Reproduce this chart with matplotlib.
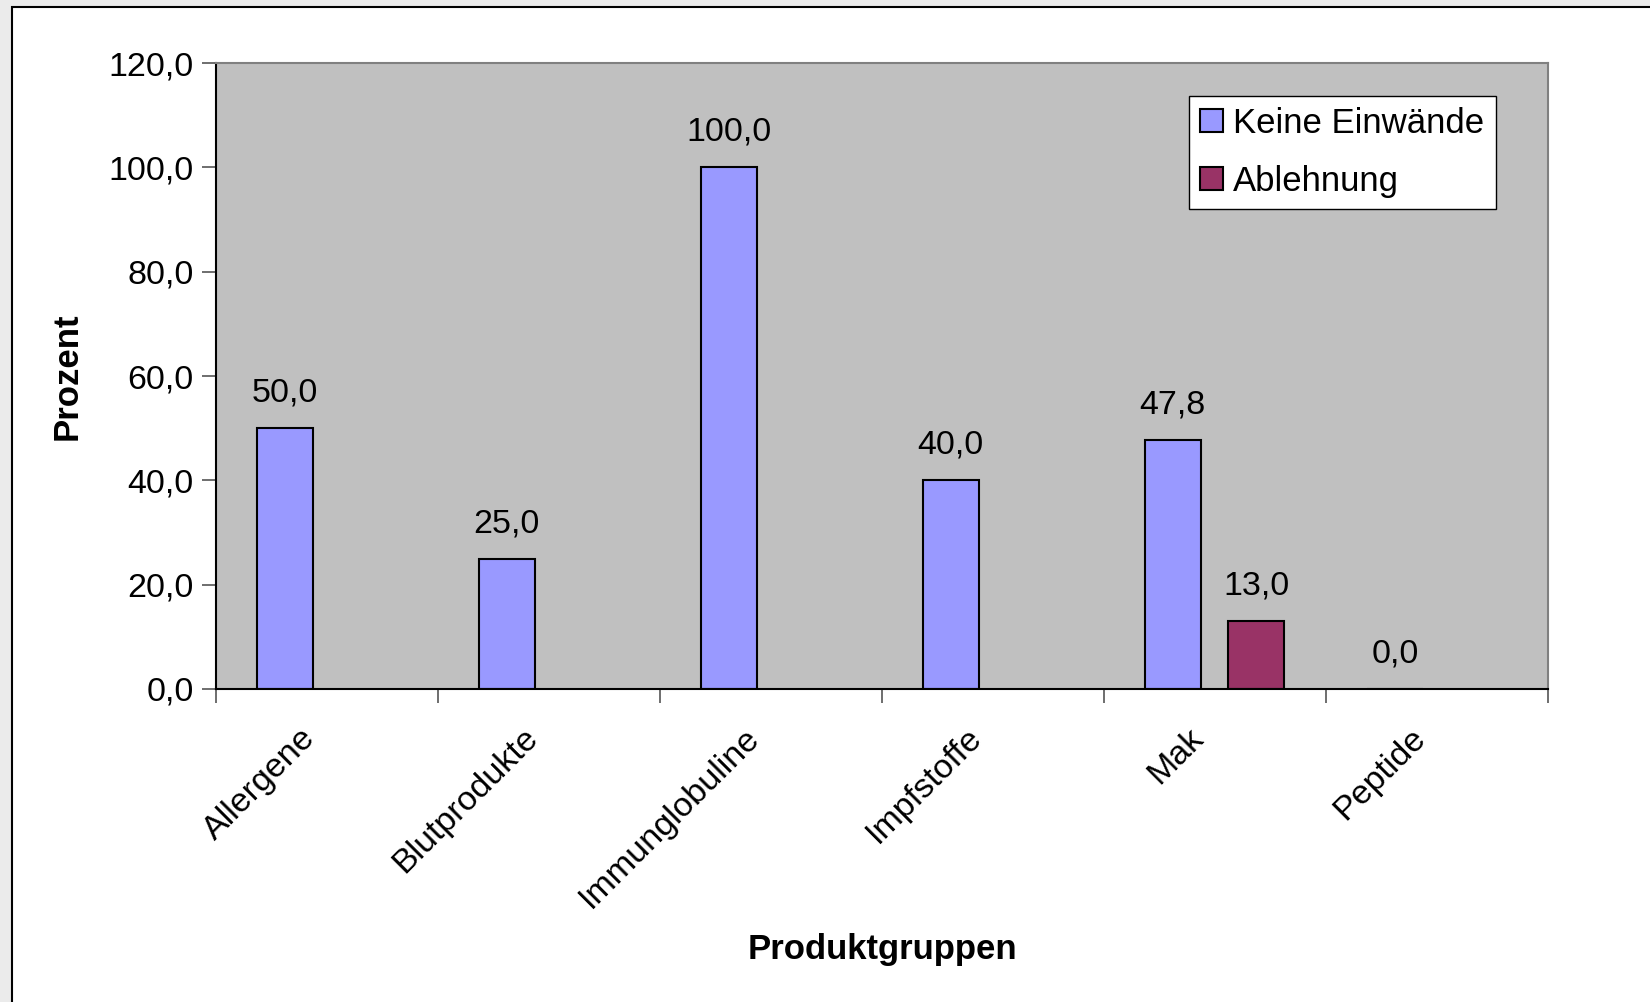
import matplotlib.pyplot as plt
from matplotlib.patches import Rectangle
from matplotlib.transforms import ScaledTranslation
import numpy as np

plt.rcParams['font.family'] = ['Liberation Sans', 'DejaVu Sans']

categories = ['Allergene', 'Blutprodukte', 'Immunglobuline', 'Impfstoffe', 'Mak', 'Peptide']
keine_einwaende = [50.0, 25.0, 100.0, 40.0, 47.8, 0.0]
ablehnung = [np.nan, np.nan, np.nan, np.nan, 13.0, np.nan]
yticks = [0, 20, 40, 60, 80, 100, 120]

fig = plt.figure(figsize=(16.5, 10.02), dpi=100)
fig.patch.set_facecolor('#ebebeb')
# white chart area with a dark frame (right/bottom edges run off the image)
fig.patches.append(Rectangle((12/1650, -0.05), 1.1, 1.05 - 7/1002, transform=fig.transFigure,
                             facecolor='white', edgecolor='black', linewidth=1.5, zorder=-5))

ax = fig.add_axes([0.1309, 0.3124, 0.8073, 0.6247])
ax.set_facecolor('#c0c0c0')

x = np.arange(len(categories)) + 0.5
w = 0.25
ax.bar(x - 0.19, keine_einwaende, w, color='#9999ff', edgecolor='black', linewidth=1.5,
       label='Keine Einwände')
ax.bar(x + 0.185, ablehnung, w, color='#993366', edgecolor='black', linewidth=1.5,
       label='Ablehnung')

def fmt(v):
    return ('%.1f' % v).replace('.', ',')

for xs, vals in ((x - 0.19, keine_einwaende), (x + 0.185, ablehnung)):
    for xi, v in zip(xs, vals):
        if np.isnan(v):
            continue
        ax.annotate(fmt(v), (xi, v), xytext=(0, 14), textcoords='offset points',
                    ha='center', va='bottom', fontsize=24.5)

ax.set_xlim(0, len(categories))
ax.set_ylim(0, 120)
ax.set_yticks(yticks)
ax.set_yticklabels([fmt(t) for t in yticks], fontsize=24.5)
ax.set_xticks(np.arange(len(categories) + 1))
ax.set_xticklabels([])
ax.set_xticks(x, minor=True)
ax.set_xticklabels(categories, minor=True, rotation=45, ha='right', rotation_mode='anchor',
                   fontsize=24.5)
ax.tick_params(axis='x', which='minor', length=0, pad=24)
ax.tick_params(axis='both', which='major', length=10, width=1.2, color='#555555')
ax.tick_params(axis='y', pad=6)
shift = ScaledTranslation(-27/100, 0, fig.dpi_scale_trans)
for lbl in ax.get_xticklabels(minor=True):
    lbl.set_transform(lbl.get_transform() + shift)

for s in ('top', 'right'):
    ax.spines[s].set_color('#808080')
    ax.spines[s].set_linewidth(1.5)
for s in ('left', 'bottom'):
    ax.spines[s].set_color('black')
    ax.spines[s].set_linewidth(1.5)

ax.set_ylabel('Prozent', fontsize=25, fontweight='bold', labelpad=18)
fig.text(882/1650, 1 - 950/1002, 'Produktgruppen', fontsize=25, fontweight='bold',
         ha='center', va='center')

leg = ax.legend(loc='upper right', bbox_to_anchor=(0.9607, 0.948), fontsize=25, frameon=True,
                fancybox=False, handlelength=0.65, handleheight=0.65, handletextpad=0.3,
                borderpad=0.33, labelspacing=0.72, borderaxespad=0, framealpha=1)
leg.get_frame().set_edgecolor('black')
leg.get_frame().set_facecolor('white')
leg.get_frame().set_linewidth(1.0)

fig.savefig('out.png', dpi=100, facecolor=fig.get_facecolor())
